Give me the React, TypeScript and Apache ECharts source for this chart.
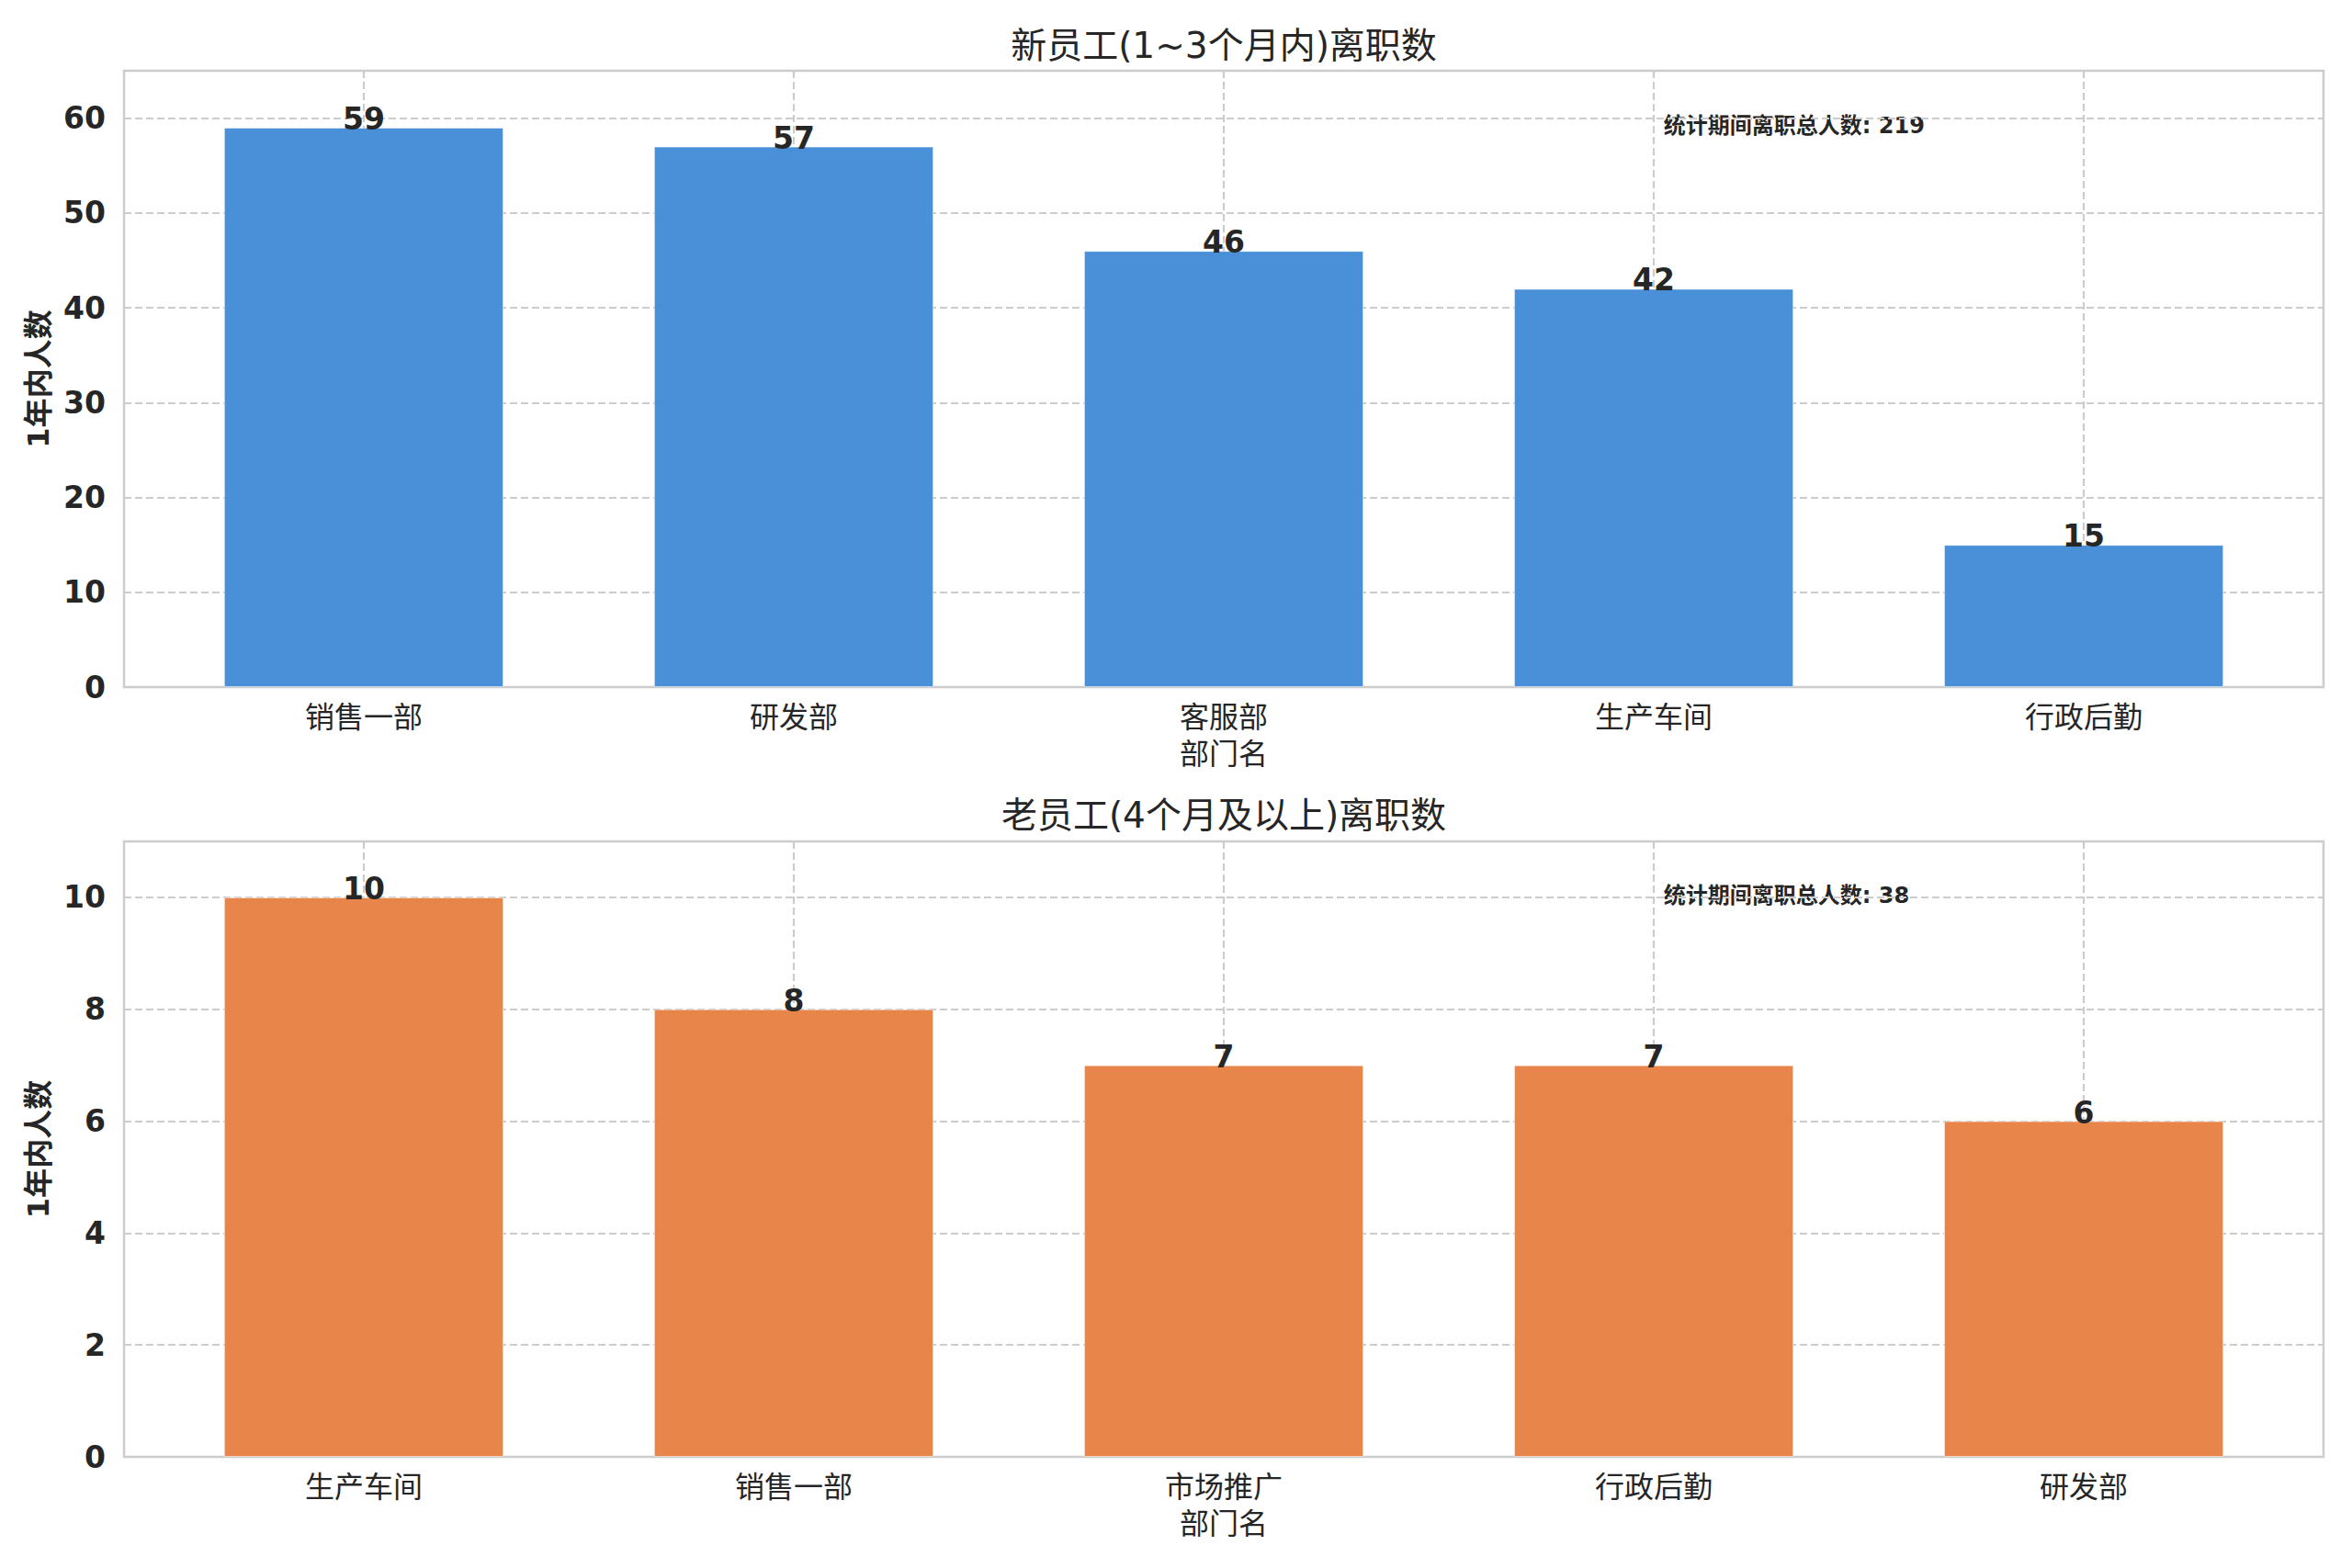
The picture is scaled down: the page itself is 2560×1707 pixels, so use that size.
import React, { useEffect, useRef } from "react";
import * as echarts from "echarts";

// Datos
const topTitle = "新员工(1~3个月内)离职数";
const bottomTitle = "老员工(4个月及以上)离职数";
const yName = "1年内人数";
const xName = "部门名";
const totalLabel = "统计期间离职总人数";

const topCategories = ["销售一部", "研发部", "客服部", "生产车间", "行政后勤"];
const topValues = [59, 57, 46, 42, 15];
const topYTicks = [0, 10, 20, 30, 40, 50, 60];
const topYMax = 65;

const bottomCategories = ["生产车间", "销售一部", "市场推广", "行政后勤", "研发部"];
const bottomValues = [10, 8, 7, 7, 6];
const bottomYTicks = [0, 2, 4, 6, 8, 10];
const bottomYMax = 11;

const W = 2560;
const H = 1707;
const FONT = "DejaVu Sans, Noto Sans CJK SC, sans-serif";
const TEXT = "#262626";
const GRID_COLOR = "#cccccc";

// eje x como valores (margen de 5% alrededor de las barras, como matplotlib)
const BAR_W = 0.65;
const X_MIN = -0.5575;
const X_MAX = 4.5575;

const PLOT_LEFT = 135;
const PLOT_RIGHT = 31;
const PLOT_WIDTH = W - PLOT_LEFT - PLOT_RIGHT;
const panels = [
  { top: 77, height: 671 },
  { top: 916, height: 670 },
];

const barPx = (PLOT_WIDTH / (X_MAX - X_MIN)) * BAR_W;
const catIdx = [0, 1, 2, 3, 4];

const makeX = (gridIndex: number, cats: string[]) => ({
  type: "value",
  gridIndex,
  min: X_MIN,
  max: X_MAX,
  name: xName,
  nameLocation: "middle",
  nameGap: 57,
  nameTextStyle: { fontFamily: FONT, fontSize: 32, color: TEXT },
  axisLine: { show: false },
  axisTick: { show: false, customValues: catIdx },
  axisLabel: {
    customValues: catIdx,
    formatter: (v: number) => cats[Math.round(v)] ?? "",
    fontFamily: FONT,
    fontSize: 32,
    color: TEXT,
    margin: 17,
  },
  splitLine: {
    show: true,
    lineStyle: { color: GRID_COLOR, width: 2.2, type: [8, 4] },
  },
});

const makeY = (gridIndex: number, ticks: number[], max: number) => ({
  type: "value",
  gridIndex,
  min: 0,
  max,
  name: yName,
  nameLocation: "middle",
  nameRotate: 90,
  nameGap: 56,
  nameTextStyle: { fontFamily: FONT, fontSize: 32, fontWeight: "bold", color: TEXT },
  axisLine: { show: false },
  axisTick: { show: false, customValues: ticks },
  axisLabel: {
    customValues: ticks,
    fontFamily: FONT,
    fontSize: 33,
    fontWeight: "bold",
    color: TEXT,
    margin: 20,
  },
  splitLine: {
    show: true,
    lineStyle: { color: GRID_COLOR, width: 2.2, type: [8, 4] },
  },
});

const makeBar = (idx: number, values: number[], color: string) => ({
  type: "bar",
  xAxisIndex: idx,
  yAxisIndex: idx,
  barWidth: barPx,
  data: values.map((v, i) => [i, v]),
  itemStyle: { color, borderColor: "rgba(255,255,255,0.5)", borderWidth: 1 },
  label: {
    show: true,
    position: "top",
    distance: -7,
    formatter: (p: any) => String(p.value[1]),
    fontFamily: FONT,
    fontSize: 33,
    fontWeight: "bold",
    color: TEXT,
  },
});

const centerX = PLOT_LEFT + PLOT_WIDTH / 2;
const noteX = PLOT_LEFT + PLOT_WIDTH * 0.7;

const App: React.FC = () => {
  const chartRef = useRef<HTMLDivElement>(null);

  useEffect(() => {
    if (!chartRef.current) return;
    const chart = echarts.init(chartRef.current, undefined, { renderer: "svg" });
    chart.setOption({
      animation: false,
      backgroundColor: "#ffffff",
      grid: panels.map((p) => ({
        left: PLOT_LEFT,
        right: PLOT_RIGHT,
        top: p.top,
        height: p.height,
        show: true,
        borderColor: GRID_COLOR,
        borderWidth: 2.5,
        containLabel: false,
      })),
      xAxis: [makeX(0, topCategories), makeX(1, bottomCategories)],
      yAxis: [makeY(0, topYTicks, topYMax), makeY(1, bottomYTicks, bottomYMax)],
      series: [
        makeBar(0, topValues, "#4a90d9"),
        makeBar(1, bottomValues, "#e8854a"),
      ],
      graphic: [
        {
          type: "text",
          x: centerX,
          y: 49,
          style: { text: topTitle, font: `39px ${FONT}`, fill: TEXT, align: "center", verticalAlign: "middle" },
        },
        {
          type: "text",
          x: centerX,
          y: 887,
          style: { text: bottomTitle, font: `39px ${FONT}`, fill: TEXT, align: "center", verticalAlign: "middle" },
        },
        {
          type: "text",
          x: noteX,
          y: 137,
          style: {
            text: `${totalLabel}: ${topValues.reduce((a, b) => a + b, 0)}`,
            font: `bold 24px ${FONT}`,
            fill: TEXT,
            align: "left",
            verticalAlign: "middle",
          },
        },
        {
          type: "text",
          x: noteX,
          y: 975,
          style: {
            text: `${totalLabel}: ${bottomValues.reduce((a, b) => a + b, 0)}`,
            font: `bold 24px ${FONT}`,
            fill: TEXT,
            align: "left",
            verticalAlign: "middle",
          },
        },
      ],
    });
    return () => {
      chart.dispose();
    };
  }, []);

  return (
    <div
      ref={chartRef}
      style={{ position: "absolute", left: 0, top: 0, width: W, height: H, background: "#fff" }}
    />
  );
};

export default App;
